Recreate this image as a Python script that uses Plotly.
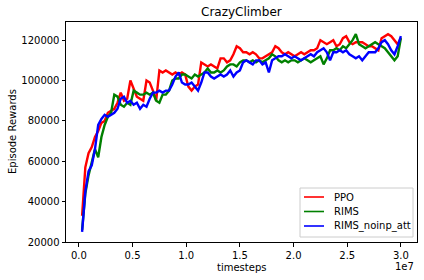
import plotly.graph_objects as go

# timesteps in millions
timesteps_m = [0.3, 0.6, 0.9, 1.2, 1.5, 1.8, 2.1, 2.4, 2.7, 3.0,
               3.3, 3.6, 3.9, 4.2, 4.5, 4.8, 5.1, 5.4, 5.7, 6.0,
               6.3, 6.6, 6.9, 7.2, 7.5, 7.8, 8.1, 8.4, 8.7, 9.0,
               9.3, 9.6, 9.9, 10.2, 10.5, 10.8, 11.1, 11.4, 11.7, 12.0,
               12.3, 12.6, 12.9, 13.2, 13.5, 13.8, 14.1, 14.4, 14.7, 15.0,
               15.3, 15.6, 15.9, 16.2, 16.5, 16.8, 17.1, 17.4, 17.7, 18.0,
               18.3, 18.6, 18.9, 19.2, 19.5, 19.8, 20.1, 20.4, 20.7, 21.0,
               21.3, 21.6, 21.9, 22.2, 22.5, 22.8, 23.1, 23.4, 23.7, 24.0,
               24.3, 24.6, 24.9, 25.2, 25.5, 25.8, 26.1, 26.4, 26.7, 27.0,
               27.3, 27.6, 27.9, 28.2, 28.5, 28.8, 29.1, 29.4, 29.7, 30.0]

# episode rewards in thousands
ppo_k = [33, 57, 64, 67, 72, 75, 79, 80, 84, 85,
         86, 89, 94, 90, 91, 100, 96, 92, 91, 90,
         100, 99, 95, 90, 105, 104, 105, 104, 103, 104,
         103, 104, 103, 97, 95, 97, 98, 109, 108, 107,
         108, 107, 106, 111, 111, 109, 110, 113, 117, 116,
         114, 114, 113, 114, 113, 111, 111, 112, 113, 114,
         117, 116, 114, 113, 114, 113, 112, 113, 114, 113,
         114, 115, 115, 116, 120, 119, 118, 119, 120, 117,
         118, 121, 122, 119, 118, 119, 119, 119, 118, 117,
         117, 116, 115, 121, 122, 123, 122, 120, 118, 121]

rims_k = [26, 44, 53, 60, 66, 62, 72, 78, 82, 84,
          93, 92, 88, 87, 89, 88, 95, 94, 93, 93,
          94, 93, 94, 90, 89, 93, 93, 95, 100, 101,
          101, 103, 103, 102, 101, 103, 102, 103, 104, 106,
          104, 104, 105, 104, 105, 107, 108, 108, 107, 109,
          110, 110, 109, 110, 109, 110, 109, 110, 111, 113,
          112, 110, 109, 110, 109, 110, 110, 109, 110, 111,
          110, 109, 110, 111, 112, 108, 111, 115, 115, 116,
          115, 117, 116, 118, 120, 123, 118, 117, 116, 117,
          118, 119, 118, 117, 116, 114, 112, 110, 112, 121]

rims_noinp_att_k = [25, 45, 55, 58, 66, 78, 81, 83, 82, 83,
                    84, 86, 91, 92, 89, 90, 88, 89, 86, 88,
                    87, 91, 94, 94, 95, 94, 95, 95, 98, 102,
                    104, 99, 98, 98, 99, 97, 95, 99, 104, 104,
                    102, 101, 102, 103, 102, 103, 105, 102, 104, 105,
                    109, 110, 109, 108, 110, 110, 108, 109, 104, 110,
                    111, 112, 112, 113, 112, 111, 112, 111, 110, 111,
                    112, 113, 112, 114, 115, 116, 114, 110, 114, 114,
                    115, 114, 115, 113, 112, 111, 112, 110, 112, 114,
                    114, 114, 116, 119, 120, 118, 115, 113, 117, 122]

series_names = ["PPO", "RIMS", "RIMS_noinp_att"]
series_values = [ppo_k, rims_k, rims_noinp_att_k]
series_colors = ["#ff0000", "#008000", "#0000ff"]

x_tickvals = [0, 5, 10, 15, 20, 25, 30]
x_ticktext = ["0.0", "0.5", "1.0", "1.5", "2.0", "2.5", "3.0"]
y_tickvals = [20000, 40000, 60000, 80000, 100000, 120000]

W, H = 424, 280
L, R, T, B = 66, 417, 22, 242
pw, ph = R - L, B - T


def px_x(p):
    return (p - L) / pw


def px_y(p):
    return (B - p) / ph


fig = go.Figure()
for name, vals, color in zip(series_names, series_values, series_colors):
    fig.add_trace(go.Scatter(
        x=timesteps_m, y=[v * 1000 for v in vals], mode="lines", name=name,
        line=dict(color=color, width=2.4), showlegend=False))

font = dict(family="DejaVu Sans", size=10, color="#000000")
axis_common = dict(showline=True, linecolor="black", linewidth=1, mirror=True,
                   ticks="outside", ticklen=3.5, tickwidth=0.8, tickcolor="black",
                   showgrid=False, zeroline=False, tickfont=font)

# hand-built legend box (matplotlib style)
lx0, lx1, ly0, ly1 = 300, 413, 188, 237
shapes = [dict(type="rect", xref="paper", yref="paper",
               x0=px_x(lx0), x1=px_x(lx1), y0=px_y(ly1), y1=px_y(ly0),
               line=dict(color="#cccccc", width=1), fillcolor="rgba(255,255,255,0.8)",
               layer="above")]
annotations = []
row_y = [197, 211.5, 226]
for i, (name, color) in enumerate(zip(series_names, series_colors)):
    yy = px_y(row_y[i])
    shapes.append(dict(type="line", xref="paper", yref="paper",
                       x0=px_x(304), x1=px_x(324), y0=yy, y1=yy,
                       line=dict(color=color, width=1.6), layer="above"))
    annotations.append(dict(text=name, xref="paper", yref="paper", x=px_x(332), y=yy,
                            xanchor="left", yanchor="middle", showarrow=False, font=font))

annotations += [
    dict(text="CrazyClimber", xref="paper", yref="paper", x=0.5, y=px_y(12.5),
         xanchor="center", yanchor="middle", showarrow=False,
         font=dict(family="DejaVu Sans", size=12, color="#000000")),
    dict(text="timesteps", xref="paper", yref="paper", x=0.5, y=px_y(267),
         xanchor="center", yanchor="middle", showarrow=False, font=font),
    dict(text="1e7", xref="paper", yref="paper", x=px_x(416), y=px_y(266),
         xanchor="right", yanchor="middle", showarrow=False, font=font),
    dict(text="Episode Rewards", xref="paper", yref="paper", x=px_x(12), y=0.5,
         xanchor="center", yanchor="middle", textangle=-90, showarrow=False, font=font),
]

fig.update_layout(
    width=W, height=H,
    margin=dict(l=L, r=W - R, t=T, b=H - B, pad=0),
    paper_bgcolor="white", plot_bgcolor="white",
    font=font,
    xaxis=dict(range=[-1.2, 31.5], tickvals=x_tickvals, ticktext=x_ticktext, **axis_common),
    yaxis=dict(range=[20000, 129000], tickvals=y_tickvals, tickformat="d", **axis_common),
    showlegend=False,
    shapes=shapes,
    annotations=annotations,
)

fig.write_html("out.html", config={"displayModeBar": False},
               post_script="document.body.style.margin='0';")
